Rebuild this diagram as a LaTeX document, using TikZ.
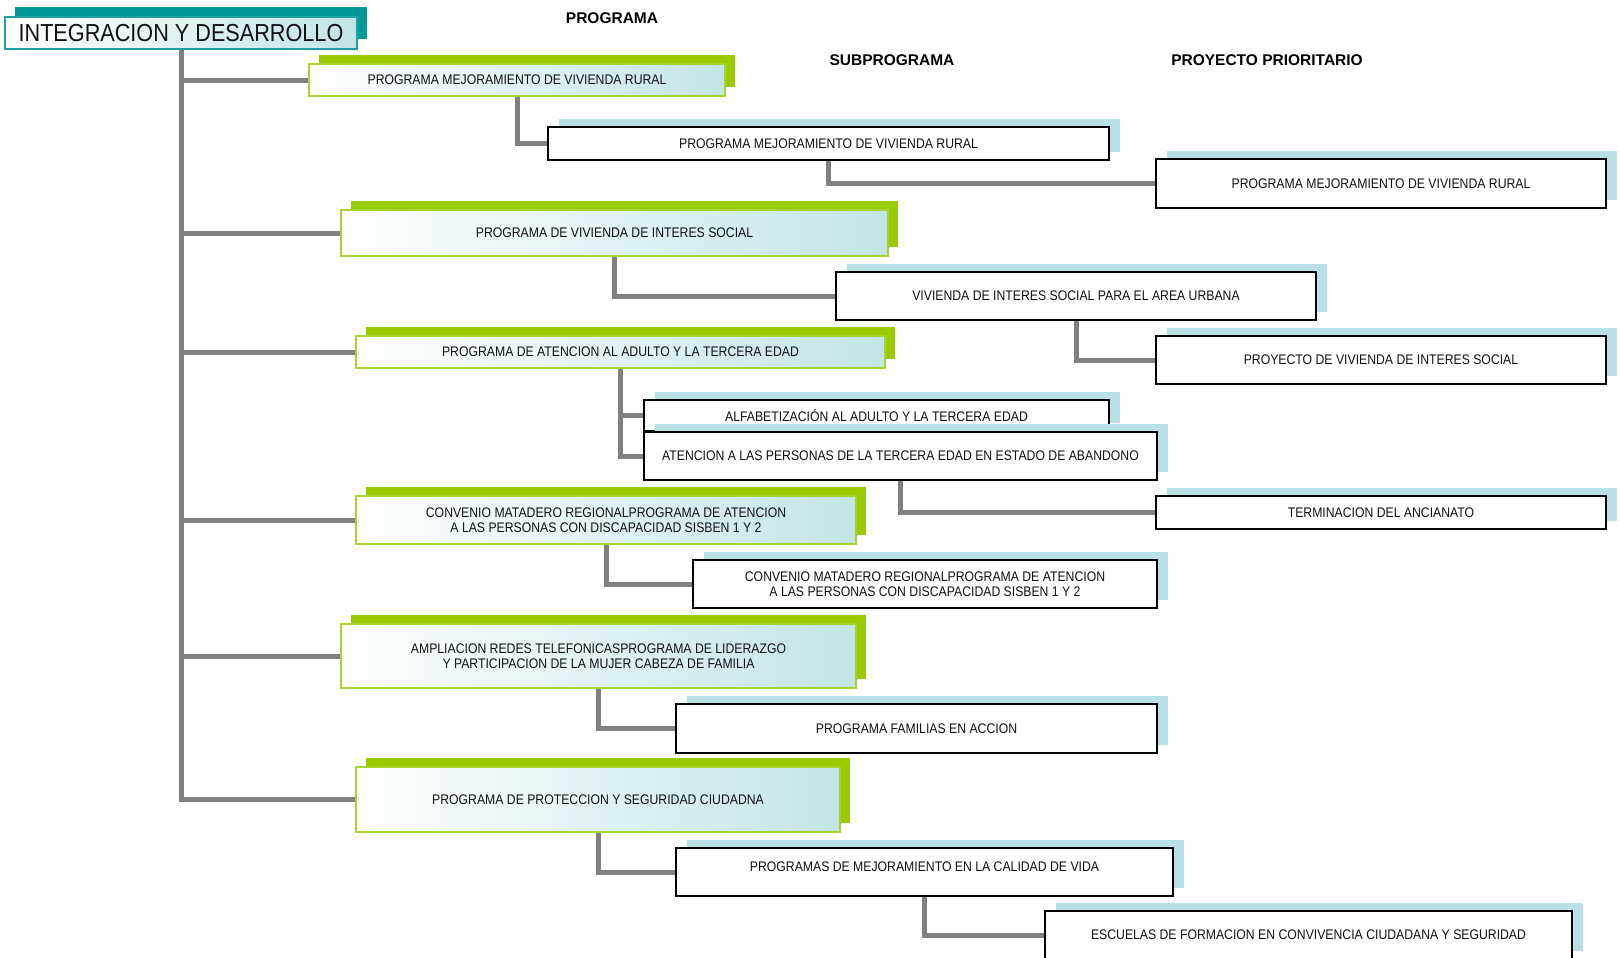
\documentclass[tikz,border=0pt]{standalone}
\usepackage{fontspec}
\setmainfont{Liberation Sans}
\newfontfamily\boxfont{Liberation Sans}[FakeStretch=0.88]
\usetikzlibrary{shadows,backgrounds}
\definecolor{linegray}{HTML}{808080}
\definecolor{prggreen}{HTML}{99CC00}
\definecolor{prgborder}{HTML}{A6D62E}
\definecolor{prgblue}{HTML}{C2E5E8}
\definecolor{subshadow}{HTML}{B9E0E4}
\definecolor{tealshadow}{HTML}{009999}
\definecolor{tealborder}{HTML}{20A0A0}
\definecolor{txt}{HTML}{111111}
\tikzset{
  conn/.style={draw=linegray, line width=5pt},
  basebox/.style={inner sep=0pt, align=center, text=txt, font=\boxfont\fontsize{13.9}{15.5}\selectfont},
  progbox/.style={basebox, draw=prgborder, line width=2pt, left color=white, right color=prgblue,
    general shadow={fill=prggreen, shadow xshift=10pt, shadow yshift=9pt}},
  subbox/.style={basebox, draw=black, line width=2.5pt, fill=white,
    general shadow={fill=subshadow, shadow xshift=11pt, shadow yshift=8pt}},
  titlebox/.style={basebox, draw=tealborder, line width=2pt, left color=white, right color=prgblue,
    general shadow={fill=tealshadow, shadow xshift=10pt, shadow yshift=10pt},
    font=\boxfont\fontsize{24.6}{28}\selectfont},
  header/.style={font=\bfseries\fontsize{15.5}{18}\selectfont, text=black, inner sep=0pt},
  bx/.style 2 args={minimum width=#1pt, minimum height=#2pt},
}
\begin{document}
\begin{tikzpicture}[x=1pt,y=-1pt]
\useasboundingbox (0,0) rectangle (1619,958);
\clip (0,0) rectangle (1619,958);
% headers
\node[header] (hp) at (612,18) {PROGRAMA};
\node[header] (hs) at (892,60) {SUBPROGRAMA};
\node[header] (hpp) at (1267,60) {PROYECTO PRIORITARIO};
% title
\node[titlebox, bx={352}{32}] (T) at (181,33) {INTEGRACION Y DESARROLLO};
% programs
\node[progbox, bx={416}{32}] (P1) at (517,80) {PROGRAMA MEJORAMIENTO DE VIVIENDA RURAL};
\node[progbox, bx={547}{46}] (P2) at (614.5,233) {PROGRAMA DE VIVIENDA DE INTERES SOCIAL};
\node[progbox, bx={529}{32}] (P3) at (620.5,352) {PROGRAMA DE ATENCION AL ADULTO Y LA TERCERA EDAD};
\node[progbox, bx={500}{48}] (P4) at (606,520) {CONVENIO MATADERO REGIONALPROGRAMA DE ATENCION\\A LAS PERSONAS CON DISCAPACIDAD SISBEN 1 Y 2};
\node[progbox, bx={515}{64}] (P5) at (598.5,656) {AMPLIACION REDES TELEFONICASPROGRAMA DE LIDERAZGO\\Y PARTICIPACION DE LA MUJER CABEZA DE FAMILIA};
\node[progbox, bx={484}{65}] (P6) at (598,799.5) {PROGRAMA DE PROTECCION Y SEGURIDAD CIUDADNA};
% subprograms
\node[subbox, bx={561}{33}] (S1) at (828.5,143.5) {PROGRAMA MEJORAMIENTO DE VIVIENDA RURAL};
\node[subbox, bx={480}{48}] (S2) at (1076,296) {VIVIENDA DE INTERES SOCIAL PARA EL AREA URBANA};
\node[subbox, bx={465}{31}] (S3a) at (876.5,415.5) {ALFABETIZACIÓN AL ADULTO Y LA TERCERA EDAD};
\node[subbox, bx={513}{48}] (S3b) at (900.5,456) {ATENCION A LAS PERSONAS DE LA TERCERA EDAD EN ESTADO DE ABANDONO};
\node[subbox, bx={464}{48}] (S4) at (925,584) {CONVENIO MATADERO REGIONALPROGRAMA DE ATENCION\\A LAS PERSONAS CON DISCAPACIDAD SISBEN 1 Y 2};
\node[subbox, bx={481}{49}] (S5) at (916.5,728.5) {PROGRAMA FAMILIAS EN ACCION};
\node[subbox, bx={497}{48}] (S6) at (924.5,872) {\raisebox{11pt}{PROGRAMAS DE MEJORAMIENTO EN LA CALIDAD DE VIDA}};
% priority projects
\node[subbox, bx={450}{49}] (PP1) at (1381,183.5) {PROGRAMA MEJORAMIENTO DE VIVIENDA RURAL};
\node[subbox, bx={450}{48}] (PP2) at (1381,360) {PROYECTO DE VIVIENDA DE INTERES SOCIAL};
\node[subbox, bx={450}{33}] (PP3) at (1381,512.5) {TERMINACION DEL ANCIANATO};
\node[subbox, bx={527}{48}] (PP4) at (1308.5,935) {ESCUELAS DE FORMACION EN CONVIVENCIA CIUDADANA Y SEGURIDAD};
% connectors
\begin{pgfonlayer}{background}
\draw[conn] (T.south) |- (P6.west);
\foreach \n in {P1,P2,P3,P4,P5} \draw[conn] (T.south |- \n.west) -- (\n.west);
\draw[conn] (P1.south) |- (S1.west);
\draw[conn] (S1.south) |- (PP1.west);
\draw[conn] (P2.south) |- (S2.west);
\draw[conn] (S2.south) |- (PP2.west);
\draw[conn] (P3.south) |- (S3a.west);
\draw[conn] (P3.south) |- (S3b.west);
\draw[conn] (S3b.south) |- (PP3.west);
\draw[conn] (P4.south) |- (S4.west);
\draw[conn] (P5.south) |- (S5.west);
\draw[conn] (P6.south) |- (S6.west);
\draw[conn] (S6.south) |- (PP4.west);
\end{pgfonlayer}
\end{tikzpicture}
\end{document}
